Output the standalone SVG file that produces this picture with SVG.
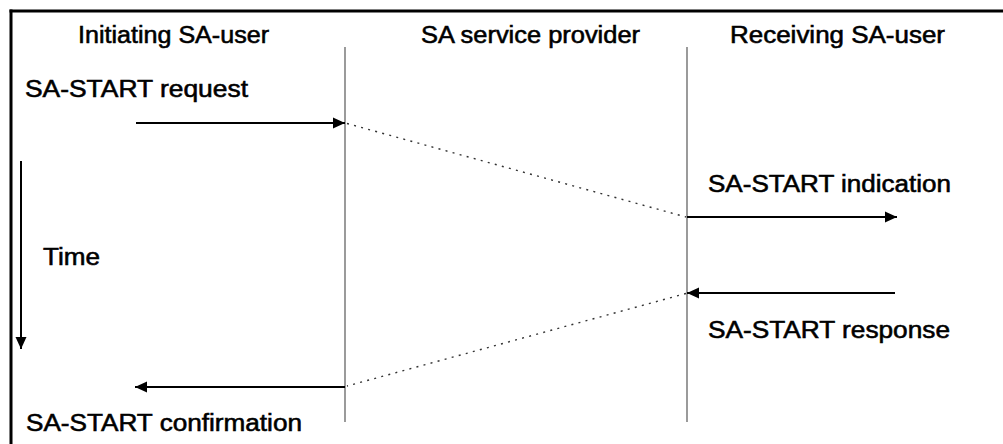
<svg xmlns="http://www.w3.org/2000/svg" width="1003" height="444" viewBox="0 0 1003 444">
  <style>
    .lbl { font-family: "Liberation Sans", Arial, sans-serif; font-size: 23px; fill: #000; stroke: #000; stroke-width: 0.55px; }
    .life { stroke: #707070; stroke-width: 1.4; fill: none; }
    .msg { stroke: #000; stroke-width: 2; fill: none; }
    .dot { stroke: #333; stroke-width: 1.4; stroke-dasharray: 2 5.3; fill: none; }
  </style>
  <defs>
    <marker id="ah" viewBox="0 0 12 12" refX="12" refY="6" markerWidth="12" markerHeight="12" markerUnits="userSpaceOnUse" orient="auto">
      <path d="M0,0.5 L12,6 L0,11.5 Z" fill="#000"/>
    </marker>
  </defs>

  <rect width="1003" height="444" fill="#fff"/>

  <!-- frame: top and left edges, the rest runs off the sheet -->
  <g id="frame">
    <line x1="9.5" y1="11" x2="1003" y2="11" stroke="#000" stroke-width="3"/>
    <line x1="11" y1="9.5" x2="11" y2="444" stroke="#000" stroke-width="3"/>
  </g>

  <!-- column headings -->
  <g id="initiating-user">
    <text class="lbl" x="78" y="43" textLength="191" lengthAdjust="spacingAndGlyphs">Initiating SA-user</text>
  </g>
  <g id="service-provider">
    <text class="lbl" x="421" y="43" textLength="219" lengthAdjust="spacingAndGlyphs">SA service provider</text>
  </g>
  <g id="receiving-user">
    <text class="lbl" x="730" y="43" textLength="215" lengthAdjust="spacingAndGlyphs">Receiving SA-user</text>
  </g>

  <!-- primitive labels -->
  <g id="request">
    <text class="lbl" x="25" y="97" textLength="223" lengthAdjust="spacingAndGlyphs">SA-START request</text>
  </g>
  <g id="indication">
    <text class="lbl" x="708" y="192" textLength="243" lengthAdjust="spacingAndGlyphs">SA-START indication</text>
  </g>
  <g id="response">
    <text class="lbl" x="708" y="338" textLength="242" lengthAdjust="spacingAndGlyphs">SA-START response</text>
  </g>
  <g id="confirmation">
    <text class="lbl" x="26" y="431" textLength="276" lengthAdjust="spacingAndGlyphs">SA-START confirmation</text>
  </g>
  <g id="time">
    <text class="lbl" x="43" y="265" textLength="57" lengthAdjust="spacingAndGlyphs">Time</text>
  </g>

  <!-- boundaries between the parties -->
  <g id="boundaries">
    <line class="life" x1="345" y1="47" x2="345" y2="422"/>
    <line class="life" x1="687" y1="47" x2="687" y2="422"/>
  </g>

  <g id="connectors">
    <!-- time axis -->
    <line class="msg" x1="21" y1="161" x2="21" y2="349" marker-end="url(#ah)"/>
    <!-- request -->
    <line class="msg" x1="136" y1="123" x2="345" y2="123" marker-end="url(#ah)"/>
    <line class="dot" x1="347" y1="123.5" x2="686" y2="217"/>
    <!-- indication -->
    <line class="msg" x1="687" y1="217" x2="897" y2="217" marker-end="url(#ah)"/>
    <!-- response -->
    <line class="msg" x1="895" y1="293" x2="687" y2="293" marker-end="url(#ah)"/>
    <line class="dot" x1="686" y1="293.5" x2="347" y2="386"/>
    <!-- confirmation -->
    <line class="msg" x1="345" y1="387" x2="135" y2="387" marker-end="url(#ah)"/>
  </g>
</svg>
